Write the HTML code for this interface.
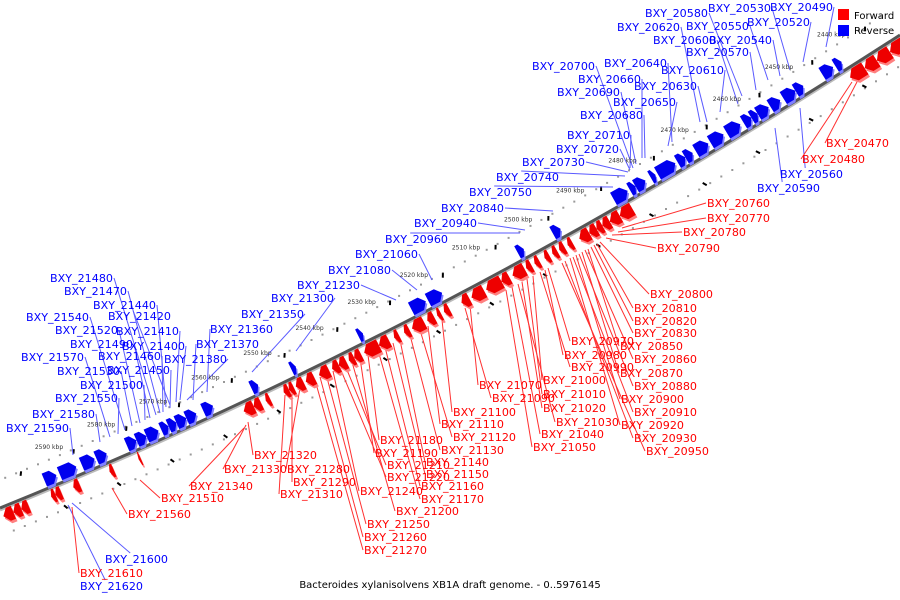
<!DOCTYPE html>
<html><head><meta charset="utf-8"><style>
html,body{margin:0;padding:0;background:#fff;width:900px;height:600px;overflow:hidden}
svg{display:block}
text{font-family:"DejaVu Sans","Liberation Sans",sans-serif}
</style></head><body>
<svg id="chart" width="900" height="600" viewBox="0 0 900 600" xmlns="http://www.w3.org/2000/svg">
<g id="dots"></g>
<g id="leaders"></g>
<path id="backbone2" d="M0,510 Q450,328 900,37" fill="none" stroke="#bbb" stroke-width="3"/>
<path id="backbone" d="M0,508 Q450,326 900,35" fill="none" stroke="#555" stroke-width="3"/>
<g id="genes"></g>
<g id="ticks"></g>
<g id="labels"></g>
<g>
<rect x="838" y="9" width="11" height="11" fill="#f00"/>
<text x="854" y="19" font-size="10">Forward</text>
<rect x="838" y="25" width="11" height="11" fill="#00f"/>
<text x="854" y="34" font-size="10">Reverse</text>
</g>
<text x="450" y="588" font-size="10" text-anchor="middle">Bacteroides xylanisolvens XB1A draft genome. - 0..5976145</text>
</svg>
<script>
const tickKbp=[2590,2580,2570,2560,2550,2540,2530,2520,2510,2500,2490,2480,2470,2460,2450,2440];
const revStart=[2592.9,2590.0,2585.8,2583.0,2577.2,2575.3,2573.4,2570.6,2569.2,2567.7,2565.8,2562.6,2553.4,2545.8,2533.0,2522.9,2519.7,2502.6,2495.9,2484.3,2481.2,2480.1,2477.2,2475.9,2472.1,2470.6,2468.6,2465.8,2462.7,2459.5,2458.0,2456.8,2454.4,2451.9,2449.6,2444.5,2442.0];
const revEnd=[2590.6,2586.8,2583.3,2581.0,2575.3,2573.4,2571.1,2569.2,2567.7,2565.8,2563.9,2560.7,2552.1,2544.9,2532.1,2520.1,2517.0,2501.4,2494.4,2481.6,2480.1,2478.2,2476.3,2472.5,2470.6,2469.2,2466.2,2463.3,2460.1,2458.0,2456.8,2454.7,2452.5,2449.6,2448.1,2442.4,2440.8];
const fwdStart=[2602.0,2600.1,2598.6,2592.9,2592.1,2588.7,2581.8,2576.3,2556.3,2554.4,2552.1,2548.7,2547.7,2546.4,2544.5,2542.0,2539.5,2538.2,2536.3,2535.3,2533.4,2530.6,2527.7,2525.8,2524.3,2521.4,2519.5,2518.2,2514.9,2513.0,2510.2,2507.3,2505.2,2502.6,2501.0,2499.1,2497.6,2496.3,2494.7,2492.5,2490.6,2489.2,2488.1,2486.7,2484.8,2441.0,2438.2,2435.9,2433.4];
const fwdEnd=[2600.1,2598.6,2597.2,2592.1,2591.0,2587.5,2581.0,2575.9,2554.4,2553.0,2551.3,2547.7,2546.8,2544.9,2542.9,2540.1,2538.2,2536.8,2535.3,2534.0,2530.6,2528.7,2526.8,2524.8,2522.0,2520.1,2518.8,2517.2,2513.4,2510.6,2507.3,2505.8,2502.9,2501.6,2500.1,2498.2,2496.7,2495.3,2493.8,2490.6,2489.2,2488.1,2486.7,2484.8,2482.4,2438.2,2435.9,2433.4,2430.6];
// labels: name, label x, label y, leader end x, leader end y
const revLabels=[["BXY_20490",770,7,826,47],["BXY_20520",747,22,803,62],["BXY_20530",708,8,790,70],["BXY_20540",709,40,780,76],["BXY_20550",686,26,768,80],["BXY_20560",780,174,800,108],["BXY_20570",686,52,756,90],["BXY_20580",645,13,742,96],["BXY_20590",757,188,775,128],["BXY_20600",653,40,738,104],["BXY_20610",661,70,720,112],["BXY_20620",617,27,700,122],["BXY_20630",634,86,707,122],["BXY_20640",604,63,672,142],["BXY_20650",613,102,668,146],["BXY_20660",578,79,642,158],["BXY_20680",580,115,645,158],["BXY_20690",557,92,636,164],["BXY_20700",532,66,633,168],["BXY_20710",567,135,630,168],["BXY_20720",556,149,630,170],["BXY_20730",522,162,628,172],["BXY_20740",496,177,625,176],["BXY_20750",469,192,613,187],["BXY_20840",441,208,553,211],["BXY_20940",414,223,525,230],["BXY_20960",385,239,520,233],["BXY_21060",355,254,432,280],["BXY_21080",328,270,417,290],["BXY_21230",297,285,396,300],["BXY_21300",271,298,296,351],["BXY_21350",241,314,252,372],["BXY_21360",210,329,207,392],["BXY_21370",196,344,193,400],["BXY_21380",164,359,187,400],["BXY_21400",122,346,180,400],["BXY_21410",116,331,176,402],["BXY_21420",108,316,170,405],["BXY_21440",93,305,166,407],["BXY_21450",107,370,170,408],["BXY_21460",98,356,163,412],["BXY_21470",64,291,160,413],["BXY_21480",50,278,156,415],["BXY_21490",70,344,150,418],["BXY_21500",80,385,145,420],["BXY_21520",55,330,140,423],["BXY_21530",57,371,132,426],["BXY_21540",26,317,125,430],["BXY_21550",55,398,118,434],["BXY_21570",21,357,110,437],["BXY_21580",32,414,100,442],["BXY_21590",6,428,73,455],["BXY_21600",105,559,72,503],["BXY_21620",80,586,68,505]];
const fwdLabels=[["BXY_20470",826,143,858,80],["BXY_20480",802,159,852,82],["BXY_20760",707,203,622,228],["BXY_20770",707,218,618,232],["BXY_20780",683,232,612,235],["BXY_20790",657,248,606,238],["BXY_20800",650,294,600,242],["BXY_20810",634,308,597,244],["BXY_20820",634,321,594,245],["BXY_20830",634,333,591,247],["BXY_20850",620,346,588,249],["BXY_20860",634,359,585,250],["BXY_20870",620,373,582,252],["BXY_20880",634,386,579,254],["BXY_20900",621,399,576,255],["BXY_20910",634,412,573,257],["BXY_20920",621,425,570,258],["BXY_20930",634,438,565,261],["BXY_20950",646,451,562,263],["BXY_20970",571,341,548,268],["BXY_20980",564,355,545,270],["BXY_20990",571,367,540,272],["BXY_21000",543,380,533,276],["BXY_21010",543,394,527,279],["BXY_21020",543,408,522,282],["BXY_21030",556,422,518,284],["BXY_21040",541,434,512,287],["BXY_21050",533,447,506,290],["BXY_21070",479,385,470,305],["BXY_21090",492,398,465,308],["BXY_21100",453,412,442,320],["BXY_21110",441,424,428,326],["BXY_21120",453,437,420,330],["BXY_21130",441,450,410,335],["BXY_21140",426,462,400,340],["BXY_21150",426,474,393,343],["BXY_21160",421,486,385,347],["BXY_21170",421,499,378,350],["BXY_21180",380,440,368,355],["BXY_21190",375,453,360,358],["BXY_21200",396,511,352,362],["BXY_21210",387,465,345,365],["BXY_21220",387,477,340,368],["BXY_21240",360,491,333,371],["BXY_21250",367,524,326,374],["BXY_21260",364,537,320,377],["BXY_21270",364,550,315,380],["BXY_21280",287,469,300,388],["BXY_21290",293,482,292,392],["BXY_21310",280,494,285,395],["BXY_21320",254,455,248,422],["BXY_21330",224,469,246,425],["BXY_21340",190,486,244,428],["BXY_21510",161,498,140,480],["BXY_21560",128,514,112,488],["BXY_21610",80,573,72,507]];

const NS='http://www.w3.org/2000/svg';
function xOf(k){return (2602-k)*5.25;}
function pt(x,off){const t=x/900;const y=(1-t)*(1-t)*508+2*(1-t)*t*326+t*t*35;
 const tx=2*(1-t)*450+2*t*450, ty=2*(1-t)*(-182)+2*t*(-291);const L=Math.hypot(tx,ty);
 const nx=ty/L, ny=-tx/L;
 return [x+nx*off, y+ny*off];}
function mk(tag,attrs,parent){const e=document.createElementNS(NS,tag);for(const k in attrs)e.setAttribute(k,attrs[k]);parent.appendChild(e);return e;}
const gGenes=document.getElementById('genes'),gDots=document.getElementById('dots'),gTicks=document.getElementById('ticks'),gLab=document.getElementById('labels'),gLead=document.getElementById('leaders');
for(let x=4;x<900;x+=11){for(const off of [26,-26]){const p=pt(x,off);
 const d=mk('rect',{x:(p[0]-1).toFixed(1),y:(p[1]-1).toFixed(1),width:2,height:2,fill:'#999'},gDots);
 
 }}
for(let x=30;x<900;x+=26.5){const off=(Math.round(x/26.5)%2)?22:-22;const a=pt(x-1,off),b=pt(x+1,off+(off>0?4:-4));
 const l=mk('line',{x1:a[0].toFixed(1),y1:a[1].toFixed(1),x2:b[0].toFixed(1),y2:b[1].toFixed(1),stroke:'#000','stroke-width':2},gDots);
 
 }
function gene(s,e,dir){
 const x1=xOf(s),x2=xOf(e);const len=x2-x1;const tip=Math.min(5,len*0.5);
 const o1=2*dir,o2=16*dir,om=9*dir;
 return (dx,dy)=>{let P;
  if(dir>0){P=[pt(x1,o1),pt(x1,o2),pt(x2-tip,o2),pt(x2,om),pt(x2-tip,o1)];}
  else{P=[pt(x1+tip,o1),pt(x1,om),pt(x1+tip,o2),pt(x2,o2),pt(x2,o1)];}
  return P.map(p=>(p[0]+dx).toFixed(1)+','+(p[1]+dy).toFixed(1)).join(' ');};}
revStart.forEach((s,i)=>{const poly=gene(s,revEnd[i],1);
 const sh=mk('polygon',{points:poly(1.5,2.5),fill:'#8080ff'},gGenes);
 
 
 const g=mk('polygon',{points:poly(0,0),fill:'#0000ee'},gGenes);
 
 });
fwdStart.forEach((s,i)=>{const poly=gene(s,fwdEnd[i],-1);
 const sh=mk('polygon',{points:poly(1.5,2.5),fill:'#ff8080'},gGenes);
 
 
 const g=mk('polygon',{points:poly(0,0),fill:'#ee0000'},gGenes);
 
 });
tickKbp.forEach(k=>{const p=pt(xOf(k),36);
 const t=mk('text',{x:p[0].toFixed(1),y:p[1].toFixed(1),'font-size':6,fill:'#333','text-anchor':'middle'},gTicks);
 t.textContent=k+' kbp';
 
 });
function labels(arr,color,lineColor,isFwd){arr.forEach(a=>{
 const w=63;
 let sx,sy=a[2];
 if(isFwd){sx=(a[3]>a[1]+w)?a[1]+w:a[1]-1;}
 else{sx=(a[3]<a[1])?a[1]:a[1]+w+1; if(a[4]>a[2]+80&&a[3]<a[1]+w){sx=a[1]+w*0.4;sy=a[2]-5;} if(a[4]<a[2]){sx=a[1]+w*0.4;sy=a[2]-6;}}
 const l=mk('line',{x1:sx.toFixed(1),y1:sy,x2:a[3],y2:a[4],stroke:lineColor,'stroke-width':1},gLead);
 
 
 const t=mk('text',{x:a[1],y:a[2]+4,'font-size':11,fill:color,textLength:w,lengthAdjust:'spacingAndGlyphs'},gLab);
 t.textContent=a[0];
 
 });}
labels(revLabels,'#0000ff','#5a5aff',false);
labels(fwdLabels,'#ff0000','#ff3030',true);
</script>
</body></html>
